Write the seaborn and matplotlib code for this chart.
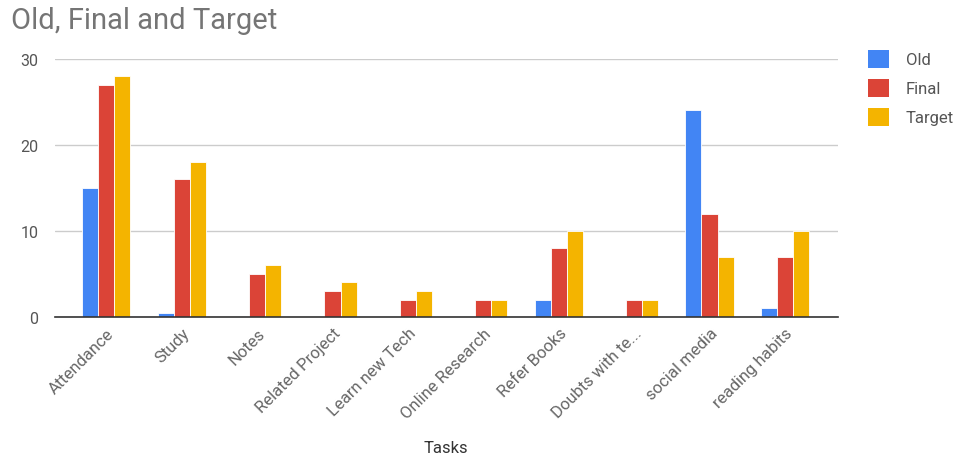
import matplotlib
matplotlib.use("Agg")
import matplotlib.pyplot as plt
import matplotlib.patches as mpatches
import seaborn as sns
import pandas as pd

tasks = ["Attendance", "Study", "Notes", "Related Project", "Learn new Tech",
         "Online Research", "Refer Books", "Doubts with te...", "social media",
         "reading habits"]
old = [15, 0.5, 0, 0, 0, 0, 2, 0, 24, 1]
final = [27, 16, 5, 3, 2, 2, 8, 2, 12, 7]
target = [28, 18, 6, 4, 3, 2, 10, 2, 7, 10]
series = ["Old", "Final", "Target"]
colors = ["#4285F4", "#DB4437", "#F4B400"]
yticks = [0, 10, 20, 30]

df = pd.DataFrame({
    "Tasks": tasks * 3,
    "value": old + final + target,
    "series": [s for s in series for _ in tasks],
})

sns.set_theme(style="white")
plt.rcParams["font.family"] = ["Roboto", "DejaVu Sans"]

fig = plt.figure(figsize=(9.64, 4.6), dpi=100)
ax = fig.add_axes([0.057, 0.309, 0.812, 0.561])

sns.barplot(data=df, x="Tasks", y="value", hue="series", hue_order=series,
            palette=colors, width=0.64, ax=ax, legend=False, saturation=1)
for p in ax.patches:
    p.set_edgecolor("white")
    p.set_linewidth(0.6)

ax.set_xlim(-0.68, 9.70)
ax.set_ylim(0, 30)
ax.set_yticks(yticks)
ax.set_yticklabels([str(t) for t in yticks], color="#555555", fontsize=11.5)
ax.yaxis.grid(True, color="#cccccc", linewidth=1)
ax.set_axisbelow(True)
for s in ["top", "right", "left"]:
    ax.spines[s].set_visible(False)
ax.spines["bottom"].set_color("#333333")
ax.spines["bottom"].set_linewidth(1.2)
ax.tick_params(axis="both", length=0, pad=6)
ax.tick_params(axis="y", pad=12)
ax.set_xticks(range(len(tasks)))
ax.set_xticklabels(tasks, rotation=45, ha="right", rotation_mode="anchor",
                   color="#666666", fontsize=12)
ax.set_xlabel("")
ax.set_ylabel("")

fig.text(0.4625, 1 - 449 / 460, "Tasks", color="#333333", fontsize=12,
         ha="center", va="center")
fig.text(0.011, 0.955, "Old, Final and Target", fontsize=21, color="#757575",
         va="center", ha="left")

handles = [mpatches.Patch(facecolor=c, edgecolor="none", label=s)
           for s, c in zip(series, colors)]
fig.legend(handles=handles, loc="upper left", bbox_to_anchor=(0.893, 0.904),
           frameon=False, fontsize=12, labelcolor="#555555",
           handlelength=1.3, handleheight=1.3, handletextpad=1.0,
           labelspacing=0.65, borderaxespad=0)

fig.savefig("out.png", dpi=100, facecolor="white")
